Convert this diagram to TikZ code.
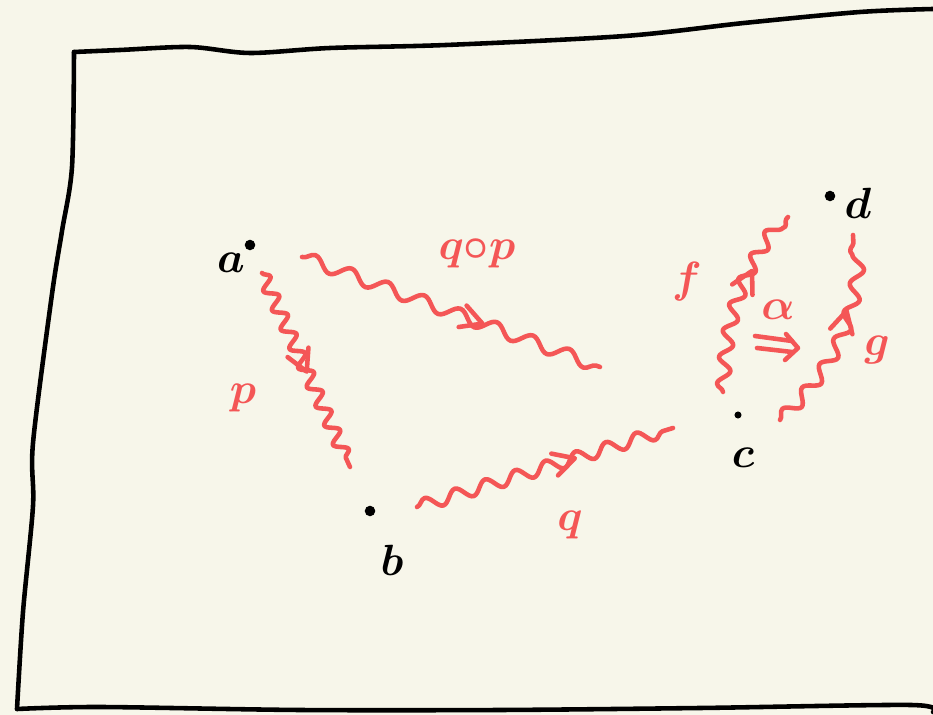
\documentclass[tikz,border=0pt]{standalone}
\usepackage{amsmath, amssymb}
\usepackage{tikz}
\usetikzlibrary{arrows.meta,calc,positioning}
\usetikzlibrary{decorations.pathmorphing,decorations.markings}
\definecolor{paper}{RGB}{247,246,234}
\definecolor{sketchred}{RGB}{244,86,86}

\begin{document}
\begin{tikzpicture}[x=0.02cm,y=-0.02cm,
    dot/.style={circle,fill=black,inner sep=0pt,minimum size=6pt},
    lbl/.style={font=\fontsize{24}{26}\selectfont\boldmath},
    big/.style={font=\fontsize{31}{33}\selectfont\boldmath},
    rlbl/.style={text=sketchred},
    pen/.style={sketchred,line width=2.6pt,line cap=round,line join=round},
    wig/.style={pen,decorate,decoration={snake,segment length=#1,amplitude=3.6pt}},
    wig/.default=14pt,
    tipat/.style={postaction={decorate,decoration={markings,
      mark=at position #1 with {\draw[pen] (-11pt,6.5pt) -- (1pt,0pt) -- (-11pt,-6.5pt);}}}}]
        % Paper
        \fill[paper] (0,0) rectangle (933,715);
        \useasboundingbox (0,0) rectangle (933,715);
        % Frame
        \draw[line width=2.6pt,line cap=round] plot[smooth,tension=0.5] coordinates
        {(74,52) (120,50) (190,47) (250,53) (330,48) (446,45) (625,36) (744,23) (860,12) (933,9)};
        \draw[line width=2.6pt,line cap=round] plot[smooth,tension=0.5] coordinates
        {(74,52) (72,167) (62,231) (52,294) (33,443) (33,506) (23,612) (17,709)};
        \draw[line width=2.6pt,line cap=round] plot[smooth,tension=0.5] coordinates
        {(17,709) (100,707) (300,710) (500,710) (700,708) (911,705) (933,712)};
        % Define points
        \node[dot] (a) at (250,245) {};
        \node[dot] (b) at (370,511) {};
        \node[dot,minimum size=4pt] (c) at (738,415) {};
        \node[dot] (d) at (830,196) {};
        % Label the points
        \node[lbl] (la) at (231,263) {$a$};
        \node[big] (lb) at (392,560) {$b$};
        \node[lbl] (lc) at (743,458) {$c$};
        \node[big] (ld) at (858,203) {$d$};
        % Ends of the arrows
        \coordinate (p0) at (262,273);
        \coordinate (p1) at (350,467);
        \coordinate (qp0) at (302,257);
        \coordinate (qp1) at (600,367);
        \coordinate (q0) at (417,507);
        \coordinate (q1) at (673,428);
        \coordinate (f0) at (723,392);
        \coordinate (f1) at (788,217);
        \coordinate (g0) at (780,420);
        \coordinate (g1) at (853,235);
        % Draw the arrows
        \draw[wig=12pt] (p0) -- (p1);
        \path[tipat=0.5] (p0) -- (p1);
        \draw[wig=22pt] (qp0) -- (qp1);
        \path[tipat=0.6] (qp0) -- (qp1);
        \draw[wig=18pt] (q0) -- (q1);
        \path[tipat=0.61] (q0) -- (q1);
        \draw[wig=15pt] (f0) to[bend left=18] (f1);
        \path[tipat=0.65] (f0) to[bend left=18] (f1);
        \draw[wig=17pt] (g0) to[bend right=24] (g1);
        \path[tipat=0.62] (g0) to[bend right=24] (g1);
        % The 2-cell
        \draw[pen] (755,336) -- (792,341);
        \draw[pen] (757,348) -- (792,352);
        \draw[pen] (786,334) -- (798,348) -- (785,360);
        % Label the arrows
        \node[big,rlbl] (lp) at (243,398) {$p$};
        \node[lbl,rlbl] (lqp) at (477,253) {$q{\circ}p$};
        \node[big,rlbl] (lq) at (570,525) {$q$};
        \node[big,rlbl] (lf) at (687,282) {$f$};
        \node[big,rlbl] (lg) at (877,350) {$g$};
        \node[lbl,rlbl] (lal) at (778,310) {$\alpha$};
\end{tikzpicture}
\end{document}
